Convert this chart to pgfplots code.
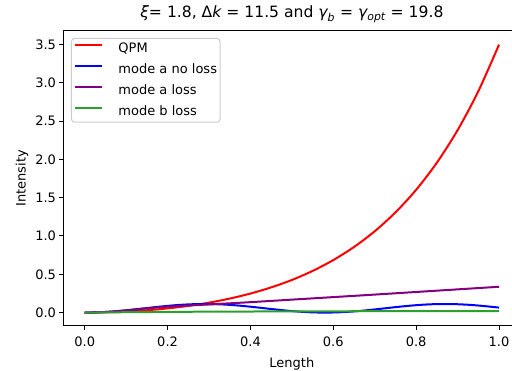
\documentclass[border=0pt]{standalone}
\usepackage{fontspec}
\setmainfont{DejaVu Sans}
\usepackage{pgfplots}
\pgfplotsset{compat=1.18}
\definecolor{cred}{RGB}{255,0,0}
\definecolor{cblue}{RGB}{0,0,255}
\definecolor{cpurple}{RGB}{128,0,128}
\definecolor{cgreen}{RGB}{44,160,44}
\definecolor{legframe}{RGB}{204,204,204}
\newcommand{\fs}{\fontsize{13}{15}\selectfont}
\begin{document}
\begin{tikzpicture}
\begin{axis}[
  at={(64pt,45pt)}, anchor=south west,
  scale only axis, width=455.75pt, height=295pt,
  xmin=-0.05, xmax=1.05, ymin=-0.175, ymax=3.675,
  xtick={0,0.2,0.4,0.6,0.8,1.0},
  ytick={0,0.5,1,1.5,2,2.5,3,3.5},
  /pgf/number format/assume math mode=true,
  xticklabel style={/pgf/number format/fixed, /pgf/number format/fixed zerofill, /pgf/number format/precision=1, yshift=-3pt},
  yticklabel style={/pgf/number format/fixed, /pgf/number format/fixed zerofill, /pgf/number format/precision=1},
  tick label style={font=\fs},
  tick align=outside, tick pos=left,
  major tick length=4.5pt,
  tick style={black, line width=1pt},
  axis line style={black, line width=1pt},
  xlabel={Length}, ylabel={Intensity},
  label style={font=\fs},
  xlabel style={yshift=-4pt},
  title={{\itshape ξ}= 1.8, Δ{\itshape k} = 11.5 and {\itshape γ}\textsubscript{\itshape b} = {\itshape γ}\textsubscript{\itshape opt} = 19.8},
  title style={font=\fontsize{15.6}{18}\selectfont, at={(0.5,1)}, anchor=base, yshift=7pt},
  legend style={at={(0,1)}, anchor=north west, xshift=7pt, yshift=-7pt,
    draw=legframe, line width=1pt, rounded corners=3pt, font=\fs,
    inner xsep=3pt, inner ysep=4.5pt, row sep=8.9pt,
    nodes={inner sep=0pt, text height=9.5pt, text depth=2.5pt},
    column sep=15pt},
  legend cell align=left,
  legend image code/.code={\draw[#1] (0pt,3.5pt) -- (27pt,3.5pt);},
  every axis plot/.append style={line width=2pt, smooth},
]
\addplot[cred] coordinates {
(0,0) (0.05,0.00328) (0.1,0.01323) (0.15,0.03018) (0.2,0.0547) (0.25,0.0875)
(0.3,0.1297) (0.35,0.1828) (0.4,0.2484) (0.45,0.3288) (0.5,0.4257) (0.55,0.5435)
(0.6,0.6854) (0.65,0.8562) (0.7,1.0614) (0.75,1.3076) (0.8,1.6029) (0.85,1.9568)
(0.9,2.3809) (0.95,2.8888) (1.0,3.4972)};
\addlegendentry{QPM}
\addplot[cblue] coordinates {
(0,0) (0.025,0.00204) (0.05,0.00801) (0.075,0.01749) (0.1,0.02977) (0.125,0.04397)
(0.15,0.05903) (0.175,0.07389) (0.2,0.08748) (0.225,0.09873) (0.25,0.10685)
(0.275,0.11124) (0.3,0.11166) (0.325,0.10803) (0.35,0.10061) (0.375,0.08998)
(0.4,0.07671) (0.425,0.06209) (0.45,0.04696) (0.475,0.03254) (0.5,0.0198)
(0.525,0.00968) (0.55,0.00293) (0.575,0.00008) (0.6,0.00131) (0.625,0.00651)
(0.65,0.01536) (0.675,0.02702) (0.7,0.04099) (0.725,0.056) (0.75,0.07096)
(0.775,0.08483) (0.8,0.0966) (0.825,0.10557) (0.85,0.11072) (0.875,0.11193)
(0.9,0.10893) (0.925,0.10217) (0.95,0.09205) (0.975,0.07925) (1.0,0.06512)};
\addlegendentry{mode a no loss}
\addplot[cpurple] coordinates {
(0,0) (0.025,0.002) (0.05,0.008) (0.075,0.017) (0.1,0.029) (0.125,0.042)
(0.15,0.055) (0.175,0.067) (0.2,0.077) (0.25,0.093) (0.3,0.106) (0.35,0.121)
(0.4,0.136) (0.5,0.169) (0.6,0.202) (0.7,0.235) (0.8,0.269) (0.9,0.303) (1.0,0.337)};
\addlegendentry{mode a loss}
\addplot[cgreen] coordinates {
(0,0) (0.05,0.002) (0.1,0.005) (0.2,0.009) (0.3,0.012) (0.4,0.014) (0.5,0.016)
(0.6,0.017) (0.7,0.018) (0.8,0.019) (0.9,0.019) (1.0,0.02)};
\addlegendentry{mode b loss}
\end{axis}
\pgfresetboundingbox
\useasboundingbox (0,0) rectangle (512pt,371pt);
\end{tikzpicture}
\end{document}
